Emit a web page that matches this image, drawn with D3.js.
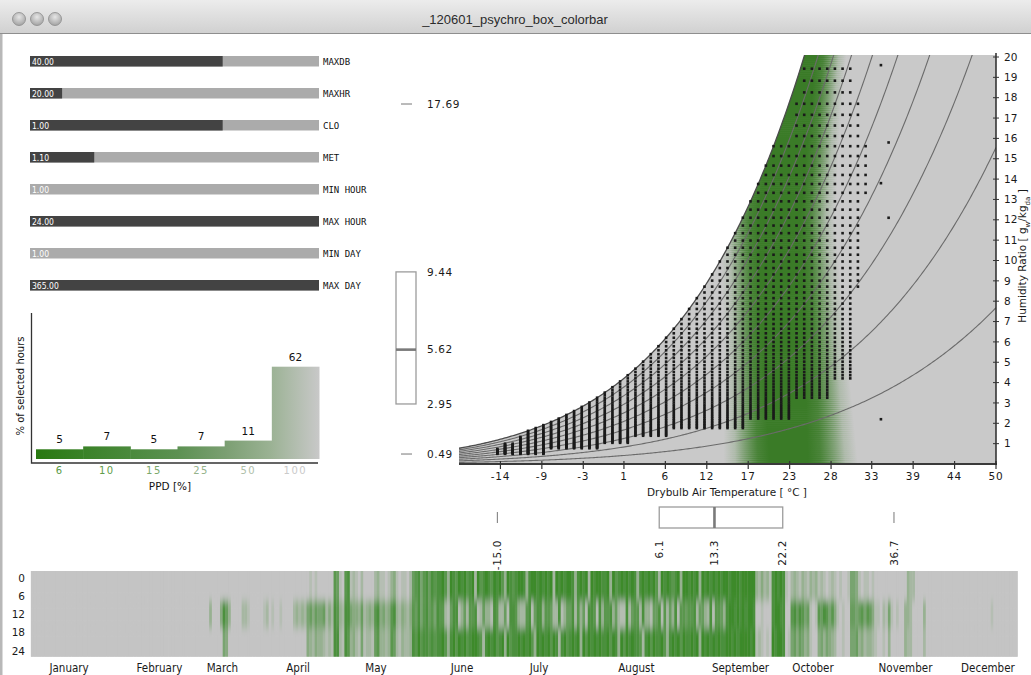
<!DOCTYPE html>
<html>
<head>
<title>psychro box colorbar</title>
<style>
  body, html { margin: 0; padding: 0; background: #fff; overflow: hidden; }
  text { font-family: 'DejaVu Sans', sans-serif; }
</style>
</head>
<body>
<svg id="svg" width="1031" height="675"></svg>
<script src="https://d3js.org/d3.v7.min.js"></script>
<script>
// ---------------- data ----------------
const windowTitle = '_120601_psychro_box_colorbar'

// sliders on the top left
const sliderNames = ['MAXDB', 'MAXHR', 'CLO', 'MET', 'MIN HOUR', 'MAX HOUR', 'MIN DAY', 'MAX DAY']
const sliderValues = [40, 20, 1, 1.1, 1, 24, 1, 365]
const sliderMin = [0, 15, 0, 0.7, 1, 1, 1, 1]
const sliderMax = [60, 60, 1.5, 2.5, 24, 24, 365, 365]

// PPD histogram
const ppdBins = ['6', '10', '15', '25', '50', '100']
const ppdShare = [5, 7, 5, 7, 11, 62]

// box plots: min, q1, median, q3, max
const humidityStats = [0.49, 2.95, 5.62, 9.44, 17.69]
const tempStats = [-15.0, 6.1, 13.3, 22.2, 36.7]

// psychro chart axes
const rhLevels = [10, 20, 30, 40, 50, 60, 70, 80, 90, 100]
const tempTicks = [-14.6, -9.2, -3.8, 1.5, 6.9, 12.3, 17.7, 23.1, 28.5, 33.8, 39.2, 44.6, 50]
const tempTickLabels = ['-14', '-9', '-3', '1', '6', '12', '17', '23', '28', '33', '39', '44', '50']
const humTicks = [1, 2, 3, 4, 5, 6, 7, 8, 9, 10, 11, 12, 13, 14, 15, 16, 17, 18, 19, 20]

// comfort (low PPD) zone shading, per humidity ratio level [g/kg] -> temperatures [C]
const comfortW = [0, 6, 12, 18, 20]
const comfortStart = [14.5, 14.5, 14, 16, 17]
const comfortLo = [20.5, 19.5, 19, 21, 22]
const comfortHi = [25.5, 25, 24.5, 26, 26.5]
const comfortEnd = [32, 30.5, 29, 30, 30.5]

// hourly weather cloud: per humidity band (upper W), coldest and warmest drybulb
const cloudWMax = [0.75, 1.0, 1.35, 1.7, 2.2, 3.2, 4.1, 5.6, 7.1, 8.6, 10, 13, 16, 18, 19.8]
const cloudTMin = [-15, -14, -12, -11, -10, -8, -6, -4, -2, 2, 6, 10, 14, 24, 25]
const cloudTMax = [-9, -2, 2, 7, 17, 23, 28, 31, 31, 31, 32, 32, 33, 32, 31]
const cloudOutliers = [[35, 19.6], [36, 15.8], [35, 13.8], [36, 12.1], [35, 2.2]]

// yearly heat map, green level 0-9 per day, for night (0-7h), midday (8-16h) and evening (17-24h)
const monthNames = ['January', 'February', 'March', 'April', 'May', 'June', 'July', 'August', 'September', 'October', 'November', 'December']
const monthDays = [31, 28, 31, 30, 31, 30, 31, 31, 30, 31, 30, 31]
const monthLabelDay = [14.2, 47.6, 70.9, 98.9, 127.7, 159.5, 188, 224, 262.5, 289.3, 323.5, 354]
const hourTicks = [0, 6, 12, 18, 24]

const heatNight = [
  '0000000000000000000000000000000',
  '0000000000000000000000000000',
  '0000000000000000000000000000000',
  '000000000000010100000076107812',
  '1020000231101341011026785786878',
  '897398798978929789879897398789',
  '9838998989892989899838989298998',
  '8939789898983898989729898789399',
  '898939898989899899989999932423',
  '1898981023213213231210121010015',
  '541011010000000000003220000000',
  '0000000000000000000000000000000'
]
const heatMid = [
  '0000000000000000000000000000000',
  '0000000000000000000000000000',
  '0000000300048630000221000001201',
  '001000023232564655624287328854',
  '4362343784534783243247685786758',
  '772168813627781263318722618873',
  '2278168837762281366827361887183',
  '7783621182677283316681726381776',
  '778266328177638998989899800100',
  '0899880078687561017687574101006',
  '656757641102151010033200003000',
  '0000000000000000000001000000000'
]
const heatEve = [
  '0000000000000000000000000000000',
  '0000000000000000000000000000',
  '0000000000005400000000000000000',
  '000000000000432433212188218734',
  '2151221673323762132238797887878',
  '897389798978998728989789397889',
  '8989739898979828978989397989898',
  '8979839798988728979889738989798',
  '898939898989889989899998912101',
  '0989980156465341004535432001005',
  '563423321001030000032200002000',
  '0000000000000000000000000000000'
]

// ---------------- drawing ----------------
const svg = d3.select('#svg')
const defs = svg.append('defs')

// window chrome
const chrome = defs.append('linearGradient').attr('id', 'chrome')
  .attr('x1', 0).attr('y1', 0).attr('x2', 0).attr('y2', 1)
chrome.append('stop').attr('offset', 0).attr('stop-color', '#ececec')
chrome.append('stop').attr('offset', 1).attr('stop-color', '#d0d0d0')
svg.append('rect').attr('x', 0).attr('y', 0).attr('width', 1031).attr('height', 34)
  .attr('fill', 'url(#chrome)')
svg.append('line').attr('x1', 0).attr('x2', 1031).attr('y1', 33.5).attr('y2', 33.5)
  .attr('stroke', '#8e8e8e')
const btn = defs.append('radialGradient').attr('id', 'btn')
  .attr('cx', '50%').attr('cy', '35%').attr('r', '65%')
btn.append('stop').attr('offset', 0).attr('stop-color', '#e6e6e6')
btn.append('stop').attr('offset', 1).attr('stop-color', '#a2a2a2')
svg.selectAll('.btn').data([19, 37, 55]).join('circle')
  .attr('cx', d => d).attr('cy', 19).attr('r', 6.5)
  .attr('fill', 'url(#btn)').attr('stroke', '#8a8a8a').attr('stroke-width', 0.8)
svg.append('text').attr('x', 515).attr('y', 24).attr('text-anchor', 'middle')
  .style('font-family', 'Liberation Sans, sans-serif').style('font-size', '13px')
  .attr('fill', '#2b2b2b').text(windowTitle)
svg.append('rect').attr('x', 0).attr('y', 34).attr('width', 2.5).attr('height', 641).attr('fill', '#b8b8b8')

// ---- sliders
const sliderY = d3.scaleBand().domain(sliderNames).range([56, 312])
sliderNames.forEach((name, i) => {
  const sx = d3.scaleLinear().domain([sliderMin[i], sliderMax[i]]).range([30, 319]).clamp(true)
  const top = sliderY(name)
  svg.append('rect').attr('x', 30).attr('y', top).attr('width', 289).attr('height', 10.5)
    .attr('fill', '#ababab')
  svg.append('rect').attr('x', 30).attr('y', top)
    .attr('width', sx(sliderValues[i]) - 30).attr('height', 10.5).attr('fill', '#434343')
  svg.append('text').attr('x', 32).attr('y', top + 8.8).text(sliderValues[i].toFixed(2))
    .attr('fill', '#fff').style('font-family', 'DejaVu Sans Condensed, DejaVu Sans')
    .style('font-size', '8.5px')
  svg.append('text').attr('x', 323).attr('y', top + 8.8).text(name)
    .attr('fill', '#111').style('font-family', 'DejaVu Sans Mono, monospace')
    .style('font-size', '9px')
})

// ---- PPD histogram
const hx = d3.scaleBand().domain(ppdBins).range([36, 319])
const hy = d3.scaleLinear().domain([-1.7, 62]).range([459, 366.7])
const ppdGrad = defs.append('linearGradient').attr('id', 'ppdGrad')
  .attr('gradientUnits', 'userSpaceOnUse').attr('x1', 36).attr('x2', 319).attr('y1', 0).attr('y2', 0)
const ppdStops = [[0, '#287810'], [0.17, '#3a8228'], [0.34, '#4b8a3d'], [0.5, '#5c9152'],
  [0.67, '#7b9f72'], [0.83, '#9bb294'], [1, '#c8c8c8']]
ppdStops.forEach(s => ppdGrad.append('stop').attr('offset', s[0]).attr('stop-color', s[1]))
svg.selectAll('.ppdbar').data(ppdBins).join('rect')
  .attr('x', d => hx(d)).attr('width', hx.bandwidth() + 0.5)
  .attr('y', (d, i) => hy(ppdShare[i])).attr('height', (d, i) => 459 - hy(ppdShare[i]))
  .attr('fill', 'url(#ppdGrad)')
svg.selectAll('.ppdval').data(ppdBins).join('text')
  .attr('x', d => hx(d) + hx.bandwidth() / 2).attr('y', (d, i) => hy(ppdShare[i]) - 6)
  .attr('text-anchor', 'middle').style('font-size', '10.5px').attr('fill', '#111')
  .text((d, i) => ppdShare[i])
const tickColor = d3.scaleLinear().domain([0, 1, 5]).range(['#5a9a45', '#5f9c4b', '#cacaca'])
svg.selectAll('.ppdtick').data(ppdBins).join('text')
  .attr('x', d => hx(d) + hx.bandwidth() / 2).attr('y', 474)
  .attr('text-anchor', 'middle').style('font-size', '10px').style('letter-spacing', '1.5px')
  .attr('fill', (d, i) => tickColor(i)).text(d => d)
svg.append('path').attr('d', 'M31.5,313V463H318').attr('fill', 'none')
  .attr('stroke', '#333').attr('stroke-width', 1.3)
svg.append('text').attr('x', 170).attr('y', 490).attr('text-anchor', 'middle')
  .style('font-size', '10.5px').attr('fill', '#111').text('PPD [%]')
svg.append('text').attr('transform', 'translate(24,386) rotate(-90)').attr('text-anchor', 'middle')
  .style('font-size', '10px').attr('fill', '#111').text('% of selected hours')

// ---- psychrometric chart
const P = 101.325
const pws = t => 0.61094 * Math.exp(17.625 * t / (t + 243.04))
const humRatio = (t, rh) => { const pw = rh / 100 * pws(t); return 622 * pw / (P - pw) }

const x = d3.scaleLinear().domain([-20, 50]).range([459, 996])
const y = d3.scaleLinear().domain([0, 20]).range([464, 57])
const curveT = d3.range(-20, 50.01, 0.2)

defs.append('clipPath').attr('id', 'plotClip').append('rect')
  .attr('x', 459).attr('y', 55).attr('width', 537).attr('height', 409)
const satArea = d3.area().x(t => x(t)).y0(y(0)).y1(t => Math.max(-500, y(humRatio(t, 100))))
defs.append('clipPath').attr('id', 'satClip').append('path').attr('d', satArea(curveT))

const plot = svg.append('g').attr('clip-path', 'url(#plotClip)')
plot.append('path').attr('d', satArea(curveT)).attr('fill', '#c9c9c9')

// comfort shading as horizontal strips with gradients
const shade = plot.append('g').attr('clip-path', 'url(#satClip)')
const cStart = d3.scaleLinear().domain(comfortW).range(comfortStart)
const cLo = d3.scaleLinear().domain(comfortW).range(comfortLo)
const cHi = d3.scaleLinear().domain(comfortW).range(comfortHi)
const cEnd = d3.scaleLinear().domain(comfortW).range(comfortEnd)
const greenPeak = '#3a7b27'
d3.range(0, 20.2, 0.1).forEach((w, i) => {
  const x0 = x(cStart(w)), x1 = x(cEnd(w))
  const oLo = (x(cLo(w)) - x0) / (x1 - x0), oHi = (x(cHi(w)) - x0) / (x1 - x0)
  const g = defs.append('linearGradient').attr('id', 'cg' + i)
    .attr('gradientUnits', 'userSpaceOnUse').attr('x1', x0).attr('x2', x1).attr('y1', 0).attr('y2', 0)
  d3.range(0, 1.01, 0.25).forEach(k => g.append('stop').attr('offset', k * oLo)
    .attr('stop-color', greenPeak).attr('stop-opacity', d3.easeSinInOut(k)))
  d3.range(0, 1.01, 0.25).forEach(k => g.append('stop').attr('offset', oHi + k * (1 - oHi))
    .attr('stop-color', greenPeak).attr('stop-opacity', d3.easeSinInOut(1 - k)))
  shade.append('rect').attr('x', 459).attr('width', 537)
    .attr('y', y(w + 0.1)).attr('height', y(w) - y(w + 0.1) + 0.6)
    .attr('fill', 'url(#cg' + i + ')')
})

// relative humidity lines
rhLevels.forEach(rh => {
  const pts = curveT.map(t => [x(t), Math.max(-500, y(humRatio(t, rh)))])
  plot.append('path').attr('d', d3.line()(pts)).attr('fill', 'none')
    .attr('stroke', rh === 100 ? '#4c4c4c' : '#6b6b6b').attr('stroke-width', rh === 100 ? 1.3 : 1.1)
})

// hourly points (dewpoint recorded at 0.5 C, drybulb at 1 C)
const dots = []
d3.range(-25, 25, 0.5).forEach(td => {
  const w = humRatio(td, 100)
  const b = d3.bisectLeft(cloudWMax, w)
  if (b >= cloudWMax.length) return
  const lo = Math.max(cloudTMin[b], Math.ceil(td))
  for (let t = lo; t <= cloudTMax[b]; t++) dots.push([t, w])
})
cloudOutliers.forEach(d => dots.push(d))
plot.selectAll('.dot').data(dots).join('rect')
  .attr('x', d => x(d[0]) - 1.3).attr('y', d => y(d[1]) - 1.3)
  .attr('width', 2.6).attr('height', 2.6).attr('fill', '#1a1a1a')

// axes
svg.append('line').attr('x1', 459).attr('x2', 997).attr('y1', 464).attr('y2', 464)
  .attr('stroke', '#3a3a3a').attr('stroke-width', 2)
svg.selectAll('.xt').data(tempTicks).join('line')
  .attr('x1', d => x(d)).attr('x2', d => x(d)).attr('y1', 461).attr('y2', 469)
  .attr('stroke', '#333').attr('stroke-width', 1.2)
svg.selectAll('.xl').data(tempTicks).join('text')
  .attr('x', d => x(d)).attr('y', 480).attr('text-anchor', 'middle')
  .style('font-size', '10.5px').style('letter-spacing', '0.8px').attr('fill', '#1a1a1a')
  .text((d, i) => tempTickLabels[i])
svg.append('text').attr('x', 727).attr('y', 496).attr('text-anchor', 'middle')
  .style('font-size', '10.5px').attr('fill', '#1a1a1a').text('Drybulb Air Temperature [ °C ]')

svg.append('line').attr('x1', 996).attr('x2', 996).attr('y1', 53).attr('y2', 465)
  .attr('stroke', '#2a2a2a').attr('stroke-width', 1.5)
svg.selectAll('.yt').data(humTicks).join('line')
  .attr('x1', 993).attr('x2', 999).attr('y1', d => y(d)).attr('y2', d => y(d))
  .attr('stroke', '#333').attr('stroke-width', 1)
svg.selectAll('.yl').data(humTicks).join('text')
  .attr('x', 1004).attr('y', d => y(d)).attr('dy', '0.35em')
  .style('font-size', '10.5px').attr('fill', '#1a1a1a').text(d => d)
const yLab = svg.append('text').attr('transform', 'translate(1026,256) rotate(-90)')
  .attr('text-anchor', 'middle').style('font-size', '10.5px').attr('fill', '#1a1a1a')
yLab.append('tspan').text('Humidity Ratio [ g')
yLab.append('tspan').attr('baseline-shift', 'sub').style('font-size', '7px').text('w')
yLab.append('tspan').text('/kg')
yLab.append('tspan').attr('baseline-shift', 'sub').style('font-size', '7px').text('da')
yLab.append('tspan').text(' ]')

// ---- humidity box plot (vertical, shares the y scale)
const [hMin, hQ1, hMed, hQ3, hMax] = humidityStats
svg.append('rect').attr('x', 396).attr('y', y(hQ3)).attr('width', 20).attr('height', y(hQ1) - y(hQ3))
  .attr('fill', '#fff').attr('stroke', '#9c9c9c').attr('stroke-width', 1.3)
svg.append('line').attr('x1', 396).attr('x2', 416).attr('y1', y(hMed)).attr('y2', y(hMed))
  .attr('stroke', '#7a7a7a').attr('stroke-width', 2.6)
svg.selectAll('.hw').data([hMin, hMax]).join('line')
  .attr('x1', 401).attr('x2', 412).attr('y1', d => y(d)).attr('y2', d => y(d))
  .attr('stroke', '#777').attr('stroke-width', 1)
svg.selectAll('.hl').data(humidityStats).join('text')
  .attr('x', 427).attr('y', d => y(d)).attr('dy', '0.35em')
  .style('font-size', '10.5px').style('letter-spacing', '0.6px').attr('fill', '#1a1a1a')
  .text(d => d.toFixed(2))

// ---- temperature box plot (horizontal, shares the x scale)
const [tMin, tQ1, tMed, tQ3, tMax] = tempStats
svg.append('rect').attr('x', x(tQ1)).attr('y', 507).attr('width', x(tQ3) - x(tQ1)).attr('height', 21)
  .attr('fill', '#fff').attr('stroke', '#9c9c9c').attr('stroke-width', 1.3)
svg.append('line').attr('x1', x(tMed)).attr('x2', x(tMed)).attr('y1', 507).attr('y2', 528)
  .attr('stroke', '#7a7a7a').attr('stroke-width', 2.6)
svg.selectAll('.tw').data([tMin, tMax]).join('line')
  .attr('x1', d => x(d)).attr('x2', d => x(d)).attr('y1', 512).attr('y2', 523)
  .attr('stroke', '#777').attr('stroke-width', 1)
svg.selectAll('.tl').data(tempStats).join('text')
  .attr('transform', d => `translate(${x(d)},540) rotate(-90)`)
  .attr('text-anchor', 'end').attr('dy', '0.35em')
  .style('font-size', '10.5px').style('letter-spacing', '0.6px').attr('fill', '#1a1a1a')
  .text(d => d.toFixed(1))

// ---- yearly heat map
const dayX = d3.scaleLinear().domain([0, 365]).range([30.7, 1017.7])
const hourY = d3.scaleLinear().domain([0, 24]).range([578, 651])
const heatColor = d3.scaleLinear().domain([0, 9]).range(['#c4c4c4', '#3c8a2b'])
const pad = (arr) => arr.map((s, m) => s.padEnd(monthDays[m], '0').slice(0, monthDays[m])).join('')
const bands = [
  { levels: pad(heatNight), from: -2.3, to: 7.5 },
  { levels: pad(heatMid), from: 7.5, to: 16.5 },
  { levels: pad(heatEve), from: 16.5, to: 25.9 }
]
const heatTop = hourY(-2.3), heatBottom = hourY(25.9)
defs.append('clipPath').attr('id', 'heatClip').append('rect')
  .attr('x', dayX(0)).attr('y', heatTop).attr('width', dayX(365) - dayX(0)).attr('height', heatBottom - heatTop)
const blur = defs.append('filter').attr('id', 'heatBlur')
  .attr('x', '-2%').attr('y', '-30%').attr('width', '104%').attr('height', '160%')
blur.append('feGaussianBlur').attr('stdDeviation', '0.5 4')
const heatOuter = svg.append('g').attr('clip-path', 'url(#heatClip)')
heatOuter.append('rect').attr('x', dayX(0)).attr('y', heatTop)
  .attr('width', dayX(365) - dayX(0)).attr('height', heatBottom - heatTop).attr('fill', '#c4c4c4')
const heat = heatOuter.append('g').attr('filter', 'url(#heatBlur)')
bands.forEach((b, bi) => {
  const top = hourY(b.from) - (bi === 0 ? 10 : 0)
  const bottom = hourY(b.to) + (bi === 2 ? 10 : 0)
  heat.selectAll('.hb' + bi).data(d3.range(365)).join('rect')
    .attr('x', d => dayX(d)).attr('width', d => dayX(d + 1) - dayX(d) + 0.3)
    .attr('y', top).attr('height', bottom - top)
    .attr('fill', d => heatColor(+b.levels[d]))
})
svg.selectAll('.hourl').data(hourTicks).join('text')
  .attr('x', 25).attr('y', d => hourY(d)).attr('dy', '0.35em').attr('text-anchor', 'end')
  .style('font-size', '10.5px').attr('fill', '#1a1a1a').text(d => d)
svg.selectAll('.monl').data(monthNames).join('text')
  .attr('x', (d, i) => dayX(monthLabelDay[i])).attr('y', 672).attr('text-anchor', 'middle')
  .style('font-family', 'Liberation Sans Narrow, DejaVu Sans Condensed, sans-serif')
  .style('font-size', '11.5px').attr('fill', '#1a1a1a').text(d => d)
</script>
</body>
</html>
